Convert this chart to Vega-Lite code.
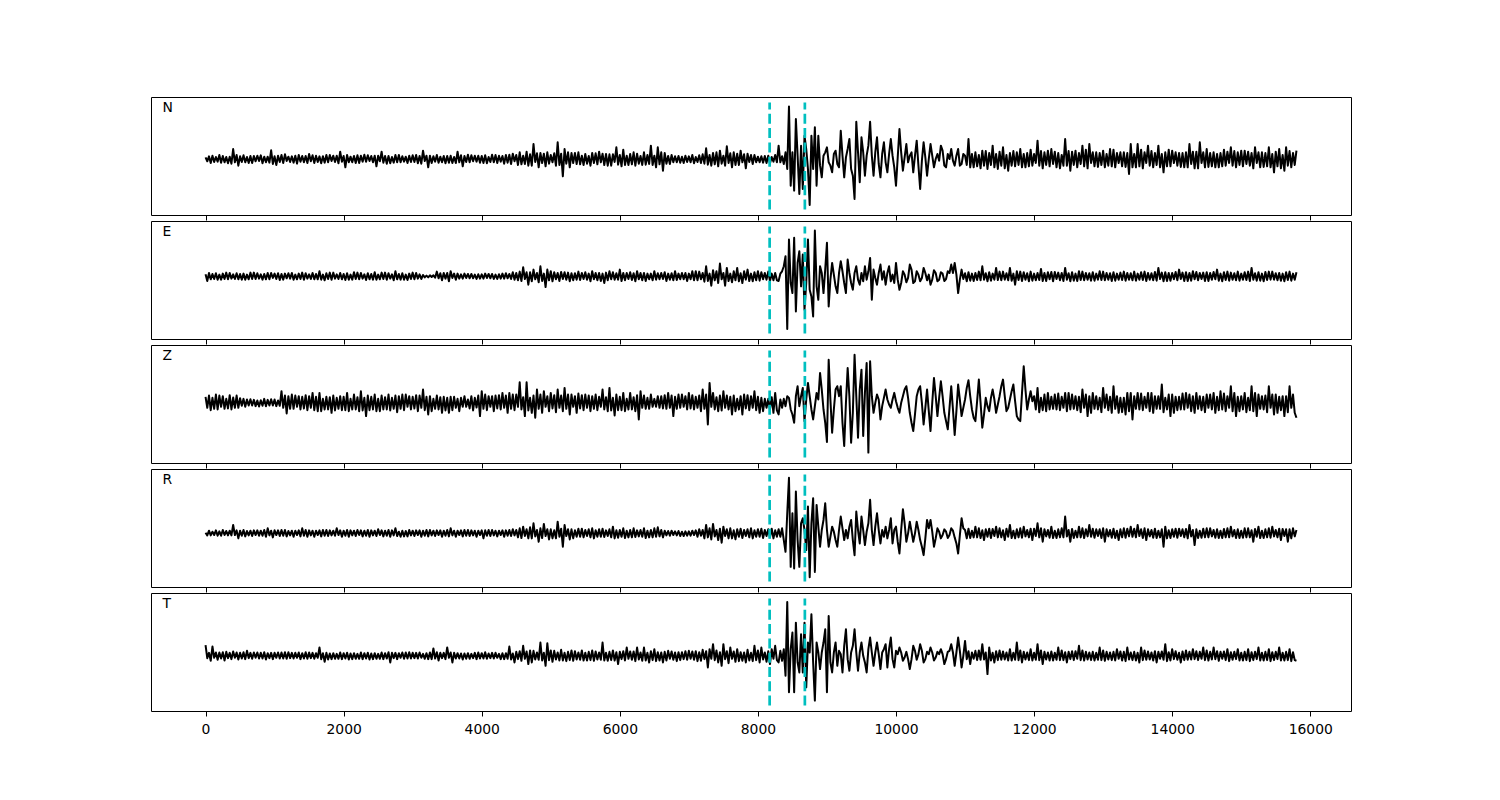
{
"$schema": "https://vega.github.io/schema/vega-lite/v6.json",
"background": "white",
"padding": {"left": 150, "top": 96, "right": 150, "bottom": 20},
"spacing": 6,
"bounds": "flush",
"datasets": {
"picks": [
{"c":"N","t":8170,"lo":-152,"hi":170},{"c":"N","t":8680,"lo":-152,"hi":170},
{"c":"E","t":8170,"lo":-171,"hi":149},{"c":"E","t":8680,"lo":-171,"hi":149},
{"c":"Z","t":8170,"lo":-165,"hi":158},{"c":"Z","t":8680,"lo":-165,"hi":158},
{"c":"R","t":8170,"lo":-144,"hi":176},{"c":"R","t":8680,"lo":-144,"hi":176},
{"c":"T","t":8170,"lo":-150,"hi":173},{"c":"T","t":8680,"lo":-150,"hi":173}
],
"wave": [
{"t":0,"N":5,"E":6,"Z":18,"R":2,"T":32},
{"t":25,"N":-7,"E":-14,"Z":-15,"R":-6,"T":-7},
{"t":50,"N":8,"E":10,"Z":22,"R":8,"T":9},
{"t":75,"N":-12,"E":-9,"Z":-22,"R":-6,"T":-15},
{"t":100,"N":10,"E":7,"Z":15,"R":5,"T":28},
{"t":125,"N":-9,"E":-8,"Z":-18,"R":-5,"T":-6},
{"t":150,"N":6,"E":9,"Z":25,"R":9,"T":10},
{"t":175,"N":-8,"E":-10,"Z":-20,"R":-7,"T":-12},
{"t":200,"N":12,"E":5,"Z":22,"R":6,"T":10},
{"t":225,"N":-11,"E":-10,"Z":-12,"R":-7,"T":-8},
{"t":250,"N":9,"E":8,"Z":20,"R":10,"T":11},
{"t":275,"N":-10,"E":-8,"Z":-18,"R":-5,"T":-14},
{"t":300,"N":6,"E":11,"Z":12,"R":7,"T":12},
{"t":325,"N":-13,"E":-9,"Z":-17,"R":-6,"T":-7},
{"t":350,"N":7,"E":10,"Z":23,"R":8,"T":9},
{"t":375,"N":-14,"E":-7,"Z":-20,"R":-6,"T":-10},
{"t":400,"N":30,"E":6,"Z":16,"R":25,"T":13},
{"t":425,"N":-10,"E":-8,"Z":-15,"R":-5,"T":-6},
{"t":450,"N":12,"E":9,"Z":22,"R":9,"T":10},
{"t":475,"N":-20,"E":-9,"Z":-15,"R":-15,"T":-11},
{"t":500,"N":8,"E":7,"Z":14,"R":8,"T":9},
{"t":525,"N":-9,"E":-10,"Z":-9,"R":-7,"T":-8},
{"t":550,"N":11,"E":8,"Z":12,"R":10,"T":11},
{"t":575,"N":-10,"E":-10,"Z":-12,"R":-9,"T":-10},
{"t":600,"N":6,"E":5,"Z":10,"R":7,"T":15},
{"t":625,"N":-12,"E":-9,"Z":-8,"R":-6,"T":-7},
{"t":650,"N":9,"E":11,"Z":11,"R":8,"T":9},
{"t":675,"N":-12,"E":-8,"Z":-8,"R":-8,"T":-9},
{"t":700,"N":9,"E":11,"Z":9,"R":9,"T":10},
{"t":725,"N":-7,"E":-8,"Z":-10,"R":-5,"T":-6},
{"t":750,"N":10,"E":9,"Z":7,"R":9,"T":10},
{"t":775,"N":-6,"E":-7,"Z":-11,"R":-7,"T":-8},
{"t":800,"N":11,"E":6,"Z":8,"R":8,"T":9},
{"t":825,"N":-13,"E":-10,"Z":-9,"R":-7,"T":-8},
{"t":850,"N":7,"E":7,"Z":12,"R":10,"T":11},
{"t":875,"N":-10,"E":-9,"Z":-10,"R":-10,"T":-11},
{"t":900,"N":7,"E":10,"Z":9,"R":15,"T":8},
{"t":925,"N":-11,"E":-9,"Z":-8,"R":-6,"T":-7},
{"t":950,"N":26,"E":10,"Z":11,"R":8,"T":9},
{"t":975,"N":-15,"E":-5,"Z":-8,"R":-12,"T":-10},
{"t":1000,"N":8,"E":8,"Z":10,"R":9,"T":9},
{"t":1025,"N":-18,"E":-8,"Z":-10,"R":-5,"T":-6},
{"t":1050,"N":10,"E":9,"Z":7,"R":9,"T":10},
{"t":1075,"N":-9,"E":-11,"Z":-9,"R":-8,"T":-8},
{"t":1100,"N":12,"E":7,"Z":35,"R":10,"T":10},
{"t":1125,"N":-12,"E":-10,"Z":-15,"R":-7,"T":-8},
{"t":1150,"N":14,"E":8,"Z":22,"R":10,"T":11},
{"t":1175,"N":-6,"E":-6,"Z":-32,"R":-9,"T":-9},
{"t":1200,"N":7,"E":9,"Z":20,"R":7,"T":11},
{"t":1225,"N":-9,"E":-7,"Z":-18,"R":-6,"T":-7},
{"t":1250,"N":8,"E":10,"Z":25,"R":8,"T":9},
{"t":1275,"N":-11,"E":-10,"Z":-18,"R":-10,"T":-8},
{"t":1300,"N":10,"E":5,"Z":22,"R":8,"T":9},
{"t":1325,"N":-14,"E":-9,"Z":-12,"R":-5,"T":-6},
{"t":1350,"N":12,"E":8,"Z":20,"R":9,"T":10},
{"t":1375,"N":-8,"E":-8,"Z":-20,"R":-9,"T":-10},
{"t":1400,"N":9,"E":11,"Z":18,"R":15,"T":8},
{"t":1425,"N":-10,"E":-10,"Z":-17,"R":-7,"T":-8},
{"t":1450,"N":9,"E":9,"Z":23,"R":10,"T":11},
{"t":1475,"N":-12,"E":-7,"Z":-22,"R":-10,"T":-9},
{"t":1500,"N":15,"E":6,"Z":20,"R":9,"T":10},
{"t":1525,"N":-7,"E":-8,"Z":-15,"R":-6,"T":-7},
{"t":1550,"N":11,"E":10,"Z":30,"R":8,"T":9},
{"t":1575,"N":-12,"E":-9,"Z":-22,"R":-10,"T":-9},
{"t":1600,"N":10,"E":7,"Z":18,"R":8,"T":8},
{"t":1625,"N":-9,"E":-9,"Z":-25,"R":-5,"T":-6},
{"t":1650,"N":8,"E":15,"Z":30,"R":9,"T":25},
{"t":1675,"N":-13,"E":-10,"Z":-25,"R":-9,"T":-10},
{"t":1700,"N":8,"E":5,"Z":12,"R":10,"T":8},
{"t":1725,"N":-11,"E":-12,"Z":-20,"R":-7,"T":-18},
{"t":1750,"N":12,"E":9,"Z":18,"R":10,"T":9},
{"t":1775,"N":-10,"E":-8,"Z":-20,"R":-8,"T":-11},
{"t":1800,"N":12,"E":11,"Z":17,"R":9,"T":7},
{"t":1825,"N":-6,"E":-10,"Z":-30,"R":-6,"T":-10},
{"t":1850,"N":10,"E":11,"Z":22,"R":8,"T":8},
{"t":1875,"N":-9,"E":-7,"Z":-23,"R":-7,"T":-9},
{"t":1900,"N":10,"E":6,"Z":15,"R":15,"T":6},
{"t":1925,"N":-13,"E":-8,"Z":-18,"R":-5,"T":-9},
{"t":1950,"N":22,"E":10,"Z":20,"R":9,"T":10},
{"t":1975,"N":-8,"E":-9,"Z":-22,"R":-10,"T":-10},
{"t":2000,"N":9,"E":7,"Z":18,"R":8,"T":8},
{"t":2025,"N":-25,"E":-11,"Z":-22,"R":-7,"T":-8},
{"t":2050,"N":12,"E":9,"Z":30,"R":10,"T":9},
{"t":2075,"N":-10,"E":-10,"Z":-25,"R":-10,"T":-11},
{"t":2100,"N":7,"E":5,"Z":12,"R":9,"T":7},
{"t":2125,"N":-10,"E":-10,"Z":-20,"R":-6,"T":-10},
{"t":2150,"N":9,"E":12,"Z":25,"R":8,"T":8},
{"t":2175,"N":-12,"E":-8,"Z":-20,"R":-8,"T":-9},
{"t":2200,"N":11,"E":11,"Z":17,"R":10,"T":6},
{"t":2225,"N":-12,"E":-9,"Z":-25,"R":-5,"T":-9},
{"t":2250,"N":10,"E":10,"Z":35,"R":9,"T":10},
{"t":2275,"N":-8,"E":-7,"Z":-23,"R":-9,"T":-10},
{"t":2300,"N":13,"E":6,"Z":15,"R":8,"T":8},
{"t":2325,"N":-8,"E":-11,"Z":-40,"R":-7,"T":-8},
{"t":2350,"N":11,"E":9,"Z":22,"R":10,"T":9},
{"t":2375,"N":-6,"E":-9,"Z":-22,"R":-10,"T":-11},
{"t":2400,"N":9,"E":7,"Z":18,"R":9,"T":7},
{"t":2425,"N":-10,"E":-10,"Z":-20,"R":-6,"T":-10},
{"t":2450,"N":10,"E":12,"Z":25,"R":8,"T":8},
{"t":2475,"N":-22,"E":-10,"Z":-25,"R":-8,"T":-9},
{"t":2500,"N":10,"E":5,"Z":12,"R":12,"T":6},
{"t":2525,"N":-7,"E":-9,"Z":-25,"R":-5,"T":-9},
{"t":2550,"N":22,"E":11,"Z":22,"R":9,"T":10},
{"t":2575,"N":-11,"E":-8,"Z":-20,"R":-9,"T":-10},
{"t":2600,"N":9,"E":11,"Z":17,"R":8,"T":8},
{"t":2625,"N":-14,"E":-10,"Z":-20,"R":-7,"T":-8},
{"t":2650,"N":9,"E":9,"Z":25,"R":10,"T":11},
{"t":2675,"N":-13,"E":-7,"Z":-23,"R":-10,"T":-20},
{"t":2700,"N":6,"E":6,"Z":15,"R":9,"T":9},
{"t":2725,"N":-11,"E":-12,"Z":-18,"R":-6,"T":-7},
{"t":2750,"N":12,"E":15,"Z":22,"R":15,"T":9},
{"t":2775,"N":-10,"E":-9,"Z":-28,"R":-8,"T":-10},
{"t":2800,"N":12,"E":7,"Z":20,"R":5,"T":8},
{"t":2825,"N":-10,"E":-10,"Z":-18,"R":-10,"T":-6},
{"t":2850,"N":8,"E":9,"Z":25,"R":8,"T":10},
{"t":2875,"N":-8,"E":-10,"Z":-22,"R":-9,"T":-9},
{"t":2900,"N":7,"E":5,"Z":25,"R":7,"T":10},
{"t":2925,"N":-12,"E":-11,"Z":-12,"R":-9,"T":-8},
{"t":2950,"N":10,"E":8,"Z":20,"R":10,"T":11},
{"t":2975,"N":-9,"E":-8,"Z":-20,"R":-6,"T":-8},
{"t":3000,"N":11,"E":11,"Z":18,"R":8,"T":9},
{"t":3025,"N":-9,"E":-9,"Z":-17,"R":-8,"T":-7},
{"t":3050,"N":12,"E":10,"Z":23,"R":9,"T":9},
{"t":3075,"N":-13,"E":-7,"Z":-25,"R":-5,"T":-8},
{"t":3100,"N":9,"E":6,"Z":22,"R":9,"T":10},
{"t":3125,"N":-14,"E":-8,"Z":-15,"R":-10,"T":-6},
{"t":3150,"N":25,"E":4,"Z":40,"R":8,"T":6},
{"t":3175,"N":-6,"E":-3,"Z":-22,"R":-7,"T":-9},
{"t":3200,"N":10,"E":2,"Z":18,"R":10,"T":8},
{"t":3225,"N":-25,"E":-3,"Z":-35,"R":-9,"T":-10},
{"t":3250,"N":10,"E":3,"Z":20,"R":10,"T":10},
{"t":3275,"N":-12,"E":-2,"Z":-25,"R":-6,"T":-10},
{"t":3300,"N":8,"E":3,"Z":12,"R":8,"T":22},
{"t":3325,"N":-8,"E":-4,"Z":-18,"R":-8,"T":-8},
{"t":3350,"N":12,"E":14,"Z":22,"R":9,"T":11},
{"t":3375,"N":-11,"E":-6,"Z":-20,"R":-5,"T":-14},
{"t":3400,"N":7,"E":9,"Z":17,"R":9,"T":9},
{"t":3425,"N":-10,"E":-12,"Z":-30,"R":-10,"T":-7},
{"t":3450,"N":9,"E":10,"Z":18,"R":8,"T":9},
{"t":3475,"N":-13,"E":-7,"Z":-23,"R":-7,"T":-10},
{"t":3500,"N":9,"E":10,"Z":15,"R":10,"T":25},
{"t":3525,"N":-11,"E":-15,"Z":-30,"R":-9,"T":-6},
{"t":3550,"N":10,"E":15,"Z":18,"R":15,"T":10},
{"t":3575,"N":-12,"E":-5,"Z":-22,"R":-6,"T":-20},
{"t":3600,"N":6,"E":8,"Z":18,"R":8,"T":9},
{"t":3625,"N":-12,"E":-10,"Z":-15,"R":-10,"T":-8},
{"t":3650,"N":22,"E":8,"Z":12,"R":8,"T":8},
{"t":3675,"N":-10,"E":-7,"Z":-25,"R":-5,"T":-8},
{"t":3700,"N":11,"E":6,"Z":15,"R":9,"T":7},
{"t":3725,"N":-22,"E":-7,"Z":-12,"R":-9,"T":-11},
{"t":3750,"N":9,"E":8,"Z":20,"R":10,"T":7},
{"t":3775,"N":-9,"E":-5,"Z":-12,"R":-7,"T":-9},
{"t":3800,"N":13,"E":7,"Z":10,"R":10,"T":8},
{"t":3825,"N":-10,"E":-6,"Z":-17,"R":-8,"T":-9},
{"t":3850,"N":11,"E":7,"Z":20,"R":9,"T":6},
{"t":3875,"N":-7,"E":-6,"Z":-23,"R":-6,"T":-7},
{"t":3900,"N":10,"E":5,"Z":15,"R":8,"T":9},
{"t":3925,"N":-8,"E":-8,"Z":-14,"R":-10,"T":-10},
{"t":3950,"N":10,"E":6,"Z":22,"R":8,"T":10},
{"t":3975,"N":-11,"E":-7,"Z":-40,"R":-5,"T":-8},
{"t":4000,"N":9,"E":6,"Z":35,"R":9,"T":8},
{"t":4025,"N":-12,"E":-7,"Z":-18,"R":-15,"T":-8},
{"t":4050,"N":11,"E":8,"Z":25,"R":9,"T":11},
{"t":4075,"N":-13,"E":-5,"Z":-22,"R":-7,"T":-9},
{"t":4100,"N":6,"E":7,"Z":20,"R":10,"T":7},
{"t":4125,"N":-9,"E":-6,"Z":-12,"R":-8,"T":-7},
{"t":4150,"N":13,"E":7,"Z":20,"R":10,"T":9},
{"t":4175,"N":-10,"E":-8,"Z":-25,"R":-6,"T":-8},
{"t":4200,"N":12,"E":5,"Z":22,"R":8,"T":9},
{"t":4225,"N":-12,"E":-8,"Z":-17,"R":-9,"T":-6},
{"t":4250,"N":10,"E":6,"Z":23,"R":8,"T":6},
{"t":4275,"N":-8,"E":-7,"Z":-20,"R":-5,"T":-10},
{"t":4300,"N":9,"E":8,"Z":30,"R":9,"T":8},
{"t":4325,"N":-14,"E":-7,"Z":-15,"R":-10,"T":-10},
{"t":4350,"N":12,"E":9,"Z":22,"R":9,"T":8},
{"t":4375,"N":-11,"E":-6,"Z":-30,"R":-7,"T":-9},
{"t":4400,"N":13,"E":7,"Z":30,"R":10,"T":28},
{"t":4425,"N":-15,"E":-8,"Z":-18,"R":-8,"T":-11},
{"t":4450,"N":16,"E":12,"Z":25,"R":12,"T":7},
{"t":4475,"N":-7,"E":-10,"Z":-22,"R":-6,"T":-20},
{"t":4500,"N":12,"E":10,"Z":25,"R":10,"T":12},
{"t":4525,"N":-18,"E":-12,"Z":-12,"R":-12,"T":-10},
{"t":4550,"N":20,"E":14,"Z":62,"R":15,"T":14},
{"t":4575,"N":-16,"E":-14,"Z":-20,"R":-14,"T":-15},
{"t":4600,"N":10,"E":27,"Z":17,"R":20,"T":30},
{"t":4625,"N":-15,"E":-8,"Z":-40,"R":-8,"T":-9},
{"t":4650,"N":22,"E":12,"Z":62,"R":12,"T":13},
{"t":4675,"N":-20,"E":-25,"Z":-23,"R":-15,"T":-25},
{"t":4700,"N":14,"E":12,"Z":15,"R":18,"T":16},
{"t":4725,"N":-20,"E":-15,"Z":-30,"R":-15,"T":-20},
{"t":4750,"N":45,"E":20,"Z":22,"R":30,"T":15},
{"t":4775,"N":-9,"E":-9,"Z":-45,"R":-9,"T":-11},
{"t":4800,"N":17,"E":10,"Z":40,"R":10,"T":10},
{"t":4825,"N":-25,"E":-18,"Z":-18,"R":-25,"T":-12},
{"t":4850,"N":18,"E":30,"Z":25,"R":15,"T":40},
{"t":4875,"N":-12,"E":-14,"Z":-30,"R":-14,"T":-14},
{"t":4900,"N":16,"E":8,"Z":35,"R":28,"T":9},
{"t":4925,"N":-22,"E":-32,"Z":-12,"R":-8,"T":-30},
{"t":4950,"N":20,"E":20,"Z":20,"R":12,"T":38},
{"t":4975,"N":-14,"E":-12,"Z":-25,"R":-18,"T":-13},
{"t":5000,"N":12,"E":15,"Z":30,"R":12,"T":16},
{"t":5025,"N":-10,"E":-15,"Z":-17,"R":-15,"T":-18},
{"t":5050,"N":17,"E":12,"Z":23,"R":9,"T":15},
{"t":5075,"N":-20,"E":-9,"Z":-28,"R":-15,"T":-11},
{"t":5100,"N":50,"E":10,"Z":40,"R":35,"T":10},
{"t":5125,"N":-18,"E":-14,"Z":-15,"R":-10,"T":-14},
{"t":5150,"N":16,"E":13,"Z":22,"R":14,"T":18},
{"t":5175,"N":-52,"E":-8,"Z":-25,"R":-40,"T":-14},
{"t":5200,"N":30,"E":12,"Z":45,"R":25,"T":9},
{"t":5225,"N":-14,"E":-10,"Z":-18,"R":-8,"T":-16},
{"t":5250,"N":20,"E":11,"Z":25,"R":12,"T":12},
{"t":5275,"N":-25,"E":-15,"Z":-35,"R":-18,"T":-13},
{"t":5300,"N":18,"E":9,"Z":25,"R":12,"T":16},
{"t":5325,"N":-12,"E":-12,"Z":-12,"R":-15,"T":-15},
{"t":5350,"N":18,"E":9,"Z":20,"R":9,"T":14},
{"t":5375,"N":-15,"E":-10,"Z":-30,"R":-10,"T":-11},
{"t":5400,"N":20,"E":14,"Z":28,"R":14,"T":10},
{"t":5425,"N":-16,"E":-11,"Z":-17,"R":-10,"T":-12},
{"t":5450,"N":10,"E":10,"Z":23,"R":14,"T":16},
{"t":5475,"N":-18,"E":-8,"Z":-22,"R":-12,"T":-14},
{"t":5500,"N":15,"E":12,"Z":25,"R":10,"T":9},
{"t":5525,"N":-14,"E":-10,"Z":-15,"R":-8,"T":-14},
{"t":5550,"N":9,"E":8,"Z":22,"R":12,"T":12},
{"t":5575,"N":-20,"E":-15,"Z":-25,"R":-12,"T":-13},
{"t":5600,"N":18,"E":15,"Z":20,"R":15,"T":16},
{"t":5625,"N":-12,"E":-9,"Z":-18,"R":-15,"T":-15},
{"t":5650,"N":17,"E":10,"Z":25,"R":9,"T":13},
{"t":5675,"N":-16,"E":-12,"Z":-22,"R":-10,"T":-11},
{"t":5700,"N":22,"E":10,"Z":18,"R":12,"T":10},
{"t":5725,"N":-10,"E":-14,"Z":-12,"R":-10,"T":-12},
{"t":5750,"N":16,"E":8,"Z":40,"R":14,"T":40},
{"t":5775,"N":-18,"E":-20,"Z":-20,"R":-11,"T":-14},
{"t":5800,"N":15,"E":11,"Z":17,"R":9,"T":9},
{"t":5825,"N":-20,"E":-12,"Z":-25,"R":-8,"T":-15},
{"t":5850,"N":14,"E":15,"Z":45,"R":12,"T":12},
{"t":5875,"N":-20,"E":-9,"Z":-23,"R":-12,"T":-13},
{"t":5900,"N":14,"E":12,"Z":15,"R":20,"T":16},
{"t":5925,"N":-9,"E":-10,"Z":-38,"R":-15,"T":-14},
{"t":5950,"N":35,"E":9,"Z":25,"R":9,"T":11},
{"t":5975,"N":-17,"E":-10,"Z":-22,"R":-13,"T":-25},
{"t":6000,"N":12,"E":20,"Z":18,"R":10,"T":12},
{"t":6025,"N":-22,"E":-14,"Z":-22,"R":-10,"T":-10},
{"t":6050,"N":28,"E":10,"Z":30,"R":15,"T":14},
{"t":6075,"N":-18,"E":-12,"Z":-25,"R":-14,"T":-14},
{"t":6100,"N":10,"E":10,"Z":12,"R":8,"T":25},
{"t":6125,"N":-18,"E":-8,"Z":-20,"R":-12,"T":-9},
{"t":6150,"N":15,"E":12,"Z":30,"R":10,"T":13},
{"t":6175,"N":-16,"E":-11,"Z":-20,"R":-12,"T":-12},
{"t":6200,"N":20,"E":9,"Z":17,"R":15,"T":13},
{"t":6225,"N":-20,"E":-15,"Z":-25,"R":-11,"T":-16},
{"t":6250,"N":16,"E":15,"Z":23,"R":9,"T":25},
{"t":6275,"N":-14,"E":-9,"Z":-50,"R":-9,"T":-11},
{"t":6300,"N":9,"E":10,"Z":35,"R":10,"T":10},
{"t":6325,"N":-18,"E":-12,"Z":-15,"R":-10,"T":-15},
{"t":6350,"N":20,"E":10,"Z":22,"R":15,"T":25},
{"t":6375,"N":-17,"E":-14,"Z":-18,"R":-14,"T":-14},
{"t":6400,"N":12,"E":8,"Z":15,"R":8,"T":9},
{"t":6425,"N":-15,"E":-9,"Z":-18,"R":-12,"T":-20},
{"t":6450,"N":40,"E":8,"Z":25,"R":10,"T":14},
{"t":6475,"N":-18,"E":-12,"Z":-12,"R":-12,"T":-13},
{"t":6500,"N":10,"E":15,"Z":12,"R":15,"T":20},
{"t":6525,"N":-25,"E":-10,"Z":-12,"R":-10,"T":-16},
{"t":6550,"N":35,"E":9,"Z":20,"R":18,"T":11},
{"t":6575,"N":-16,"E":-9,"Z":-15,"R":-9,"T":-14},
{"t":6600,"N":20,"E":10,"Z":20,"R":10,"T":10},
{"t":6625,"N":-35,"E":-8,"Z":-17,"R":-12,"T":-20},
{"t":6650,"N":18,"E":12,"Z":23,"R":8,"T":12},
{"t":6675,"N":-14,"E":-14,"Z":-18,"R":-6,"T":-14},
{"t":6700,"N":9,"E":8,"Z":30,"R":7,"T":15},
{"t":6725,"N":-15,"E":-10,"Z":-15,"R":-7,"T":-9},
{"t":6750,"N":12,"E":9,"Z":22,"R":8,"T":13},
{"t":6775,"N":-10,"E":-12,"Z":-40,"R":-5,"T":-12},
{"t":6800,"N":8,"E":15,"Z":18,"R":6,"T":10},
{"t":6825,"N":-10,"E":-11,"Z":-18,"R":-6,"T":-16},
{"t":6850,"N":9,"E":8,"Z":25,"R":7,"T":11},
{"t":6875,"N":-11,"E":-9,"Z":-15,"R":-8,"T":-13},
{"t":6900,"N":7,"E":10,"Z":25,"R":5,"T":11},
{"t":6925,"N":-12,"E":-9,"Z":-12,"R":-8,"T":-10},
{"t":6950,"N":10,"E":10,"Z":20,"R":6,"T":14},
{"t":6975,"N":-9,"E":-14,"Z":-20,"R":-7,"T":-12},
{"t":7000,"N":8,"E":8,"Z":30,"R":6,"T":15},
{"t":7025,"N":-10,"E":-9,"Z":-17,"R":-7,"T":-9},
{"t":7050,"N":12,"E":15,"Z":23,"R":8,"T":13},
{"t":7075,"N":-13,"E":-12,"Z":-20,"R":-5,"T":-12},
{"t":7100,"N":6,"E":15,"Z":18,"R":9,"T":14},
{"t":7125,"N":-9,"E":-12,"Z":-15,"R":-10,"T":-16},
{"t":7150,"N":11,"E":14,"Z":22,"R":12,"T":11},
{"t":7175,"N":-12,"E":-9,"Z":-25,"R":-7,"T":-15},
{"t":7200,"N":14,"E":10,"Z":40,"R":10,"T":18},
{"t":7225,"N":-14,"E":-16,"Z":-18,"R":-15,"T":-10},
{"t":7250,"N":32,"E":30,"Z":25,"R":25,"T":14},
{"t":7275,"N":-17,"E":-14,"Z":-65,"R":-12,"T":-35},
{"t":7300,"N":12,"E":8,"Z":60,"R":15,"T":20},
{"t":7325,"N":-20,"E":-28,"Z":-12,"R":-18,"T":-9},
{"t":7350,"N":18,"E":18,"Z":30,"R":28,"T":35},
{"t":7375,"N":-16,"E":-12,"Z":-20,"R":-9,"T":-13},
{"t":7400,"N":20,"E":15,"Z":17,"R":10,"T":16},
{"t":7425,"N":-22,"E":-20,"Z":-25,"R":-20,"T":-20},
{"t":7450,"N":25,"E":38,"Z":22,"R":14,"T":11},
{"t":7475,"N":-14,"E":-9,"Z":-23,"R":-28,"T":-30},
{"t":7500,"N":10,"E":10,"Z":35,"R":20,"T":35},
{"t":7525,"N":-20,"E":-28,"Z":-15,"R":-8,"T":-10},
{"t":7550,"N":38,"E":25,"Z":22,"R":12,"T":14},
{"t":7575,"N":-12,"E":-14,"Z":-20,"R":-15,"T":-22},
{"t":7600,"N":17,"E":8,"Z":18,"R":15,"T":25},
{"t":7625,"N":-25,"E":-18,"Z":-35,"R":-15,"T":-9},
{"t":7650,"N":20,"E":15,"Z":22,"R":9,"T":13},
{"t":7675,"N":-18,"E":-12,"Z":-25,"R":-18,"T":-18},
{"t":7700,"N":16,"E":25,"Z":12,"R":12,"T":20},
{"t":7725,"N":-18,"E":-15,"Z":-20,"R":-10,"T":-16},
{"t":7750,"N":25,"E":9,"Z":20,"R":14,"T":11},
{"t":7775,"N":-10,"E":-20,"Z":-35,"R":-14,"T":-15},
{"t":7800,"N":14,"E":15,"Z":25,"R":10,"T":10},
{"t":7825,"N":-28,"E":-10,"Z":-17,"R":-8,"T":-20},
{"t":7850,"N":16,"E":20,"Z":23,"R":12,"T":18},
{"t":7875,"N":-9,"E":-14,"Z":-22,"R":-12,"T":-14},
{"t":7900,"N":12,"E":8,"Z":20,"R":15,"T":9},
{"t":7925,"N":-15,"E":-15,"Z":-15,"R":-15,"T":-16},
{"t":7950,"N":12,"E":12,"Z":35,"R":9,"T":30},
{"t":7975,"N":-10,"E":-12,"Z":-22,"R":-10,"T":-13},
{"t":8000,"N":7,"E":15,"Z":18,"R":12,"T":16},
{"t":8025,"N":-10,"E":-13,"Z":-30,"R":-10,"T":-20},
{"t":8050,"N":8,"E":12,"Z":15,"R":14,"T":25},
{"t":8075,"N":-11,"E":-9,"Z":-25,"R":-14,"T":-11},
{"t":8100,"N":9,"E":10,"Z":12,"R":10,"T":10},
{"t":8125,"N":-12,"E":-10,"Z":-15,"R":-8,"T":-18},
{"t":8150,"N":10,"E":14,"Z":12,"R":12,"T":14},
{"t":8175,"N":-13,"E":-14,"Z":-20,"R":-12,"T":-25},
{"t":8200,"N":6,"E":8,"Z":17,"R":14,"T":20},
{"t":8225,"N":-8,"E":-12,"Z":-30,"R":-15,"T":-9},
{"t":8250,"N":12,"E":10,"Z":30,"R":9,"T":30},
{"t":8275,"N":-10,"E":-12,"Z":-23,"R":-10,"T":-13},
{"t":8300,"N":40,"E":-14,"Z":-35,"R":12,"T":-20},
{"t":8325,"N":-10,"E":8,"Z":10,"R":-10,"T":15},
{"t":8350,"N":8,"E":15,"Z":-15,"R":15,"T":-15},
{"t":8375,"N":-15,"E":30,"Z":12,"R":-20,"T":20},
{"t":8400,"N":20,"E":60,"Z":-10,"R":-55,"T":-60},
{"t":8425,"N":-30,"E":-157,"Z":20,"R":60,"T":162},
{"t":8450,"N":158,"E":110,"Z":15,"R":166,"T":-110},
{"t":8475,"N":-80,"E":-20,"Z":-20,"R":-100,"T":20},
{"t":8500,"N":20,"E":-50,"Z":-35,"R":60,"T":70},
{"t":8525,"N":-95,"E":115,"Z":-60,"R":-105,"T":-110},
{"t":8550,"N":120,"E":-105,"Z":20,"R":125,"T":100},
{"t":8575,"N":10,"E":40,"Z":50,"R":-20,"T":-20},
{"t":8600,"N":-105,"E":75,"Z":-10,"R":-100,"T":-50},
{"t":8625,"N":40,"E":-30,"Z":20,"R":30,"T":65},
{"t":8650,"N":-90,"E":65,"Z":45,"R":45,"T":-50},
{"t":8675,"N":70,"E":-100,"Z":-55,"R":10,"T":100},
{"t":8700,"N":30,"E":-20,"Z":10,"R":-50,"T":-95},
{"t":8725,"N":-30,"E":110,"Z":60,"R":80,"T":40},
{"t":8750,"N":-138,"E":-40,"Z":20,"R":-131,"T":10},
{"t":8775,"N":70,"E":-60,"Z":-20,"R":30,"T":125},
{"t":8800,"N":-30,"E":-120,"Z":-50,"R":105,"T":-20},
{"t":8825,"N":95,"E":137,"Z":-10,"R":-115,"T":-135},
{"t":8850,"N":-80,"E":-30,"Z":30,"R":85,"T":40},
{"t":8875,"N":70,"E":-70,"Z":10,"R":20,"T":10},
{"t":8900,"N":-20,"E":30,"Z":90,"R":-40,"T":-40},
{"t":8925,"N":-55,"E":10,"Z":40,"R":10,"T":10},
{"t":8950,"N":10,"E":-50,"Z":-20,"R":40,"T":40},
{"t":8975,"N":20,"E":20,"Z":-60,"R":90,"T":80},
{"t":9000,"N":35,"E":100,"Z":-118,"R":10,"T":-110},
{"t":9025,"N":-10,"E":-90,"Z":130,"R":-40,"T":120},
{"t":9050,"N":-20,"E":-10,"Z":10,"R":-10,"T":-20},
{"t":9075,"N":-40,"E":40,"Z":-90,"R":20,"T":-50},
{"t":9100,"N":15,"E":5,"Z":-20,"R":5,"T":10},
{"t":9125,"N":25,"E":-30,"Z":40,"R":-20,"T":40},
{"t":9150,"N":-15,"E":-50,"Z":50,"R":-40,"T":-30},
{"t":9175,"N":-25,"E":10,"Z":20,"R":10,"T":15},
{"t":9200,"N":85,"E":45,"Z":50,"R":50,"T":5},
{"t":9225,"N":10,"E":15,"Z":-60,"R":15,"T":-50},
{"t":9250,"N":-55,"E":-20,"Z":-130,"R":-20,"T":30},
{"t":9275,"N":5,"E":-50,"Z":0,"R":10,"T":80},
{"t":9300,"N":30,"E":50,"Z":105,"R":-15,"T":-10},
{"t":9325,"N":60,"E":10,"Z":20,"R":20,"T":-45},
{"t":9350,"N":-30,"E":-20,"Z":-120,"R":40,"T":10},
{"t":9375,"N":-50,"E":-40,"Z":-30,"R":-20,"T":30},
{"t":9400,"N":-120,"E":10,"Z":145,"R":-65,"T":80},
{"t":9425,"N":112,"E":30,"Z":20,"R":65,"T":10},
{"t":9450,"N":20,"E":-10,"Z":-105,"R":10,"T":-45},
{"t":9475,"N":-70,"E":-25,"Z":40,"R":-30,"T":10},
{"t":9500,"N":65,"E":10,"Z":100,"R":50,"T":40},
{"t":9525,"N":20,"E":-15,"Z":-100,"R":10,"T":0},
{"t":9550,"N":-50,"E":30,"Z":30,"R":-35,"T":-20},
{"t":9575,"N":10,"E":-10,"Z":120,"R":5,"T":-50},
{"t":9600,"N":40,"E":15,"Z":-150,"R":30,"T":20},
{"t":9625,"N":112,"E":55,"Z":125,"R":100,"T":55},
{"t":9650,"N":10,"E":-70,"Z":20,"R":10,"T":10},
{"t":9675,"N":-50,"E":20,"Z":-30,"R":-35,"T":-30},
{"t":9700,"N":20,"E":-5,"Z":0,"R":20,"T":10},
{"t":9725,"N":65,"E":-25,"Z":25,"R":60,"T":40},
{"t":9750,"N":-15,"E":10,"Z":10,"R":10,"T":5},
{"t":9775,"N":-55,"E":35,"Z":-50,"R":-30,"T":-40},
{"t":9800,"N":15,"E":-10,"Z":-10,"R":10,"T":10},
{"t":9825,"N":50,"E":15,"Z":15,"R":-10,"T":20},
{"t":9850,"N":-10,"E":-25,"Z":40,"R":20,"T":35},
{"t":9875,"N":-40,"E":10,"Z":10,"R":-15,"T":-35},
{"t":9900,"N":15,"E":30,"Z":-5,"R":10,"T":20},
{"t":9925,"N":60,"E":-15,"Z":-15,"R":45,"T":55},
{"t":9950,"N":10,"E":5,"Z":10,"R":-30,"T":-10},
{"t":9975,"N":-25,"E":-20,"Z":30,"R":10,"T":-35},
{"t":10000,"N":-80,"E":40,"Z":5,"R":20,"T":15},
{"t":10025,"N":5,"E":-10,"Z":-15,"R":-25,"T":5},
{"t":10050,"N":90,"E":-40,"Z":-30,"R":-60,"T":25},
{"t":10075,"N":20,"E":-20,"Z":0,"R":10,"T":10},
{"t":10100,"N":-35,"E":15,"Z":20,"R":72,"T":-15},
{"t":10125,"N":5,"E":5,"Z":40,"R":30,"T":-5},
{"t":10150,"N":45,"E":-18,"Z":50,"R":-25,"T":12},
{"t":10175,"N":-10,"E":-5,"Z":15,"R":0,"T":-10},
{"t":10200,"N":10,"E":35,"Z":-30,"R":35,"T":-40},
{"t":10225,"N":20,"E":20,"Z":-60,"R":5,"T":-10},
{"t":10250,"N":-40,"E":-20,"Z":-85,"R":-25,"T":30},
{"t":10275,"N":10,"E":-15,"Z":-35,"R":0,"T":15},
{"t":10300,"N":55,"E":15,"Z":20,"R":35,"T":-12},
{"t":10325,"N":-20,"E":5,"Z":40,"R":10,"T":5},
{"t":10350,"N":-90,"E":-15,"Z":50,"R":-20,"T":35},
{"t":10375,"N":-5,"E":-5,"Z":0,"R":-40,"T":15},
{"t":10400,"N":50,"E":25,"Z":-65,"R":-65,"T":-20},
{"t":10425,"N":5,"E":10,"Z":-15,"R":-15,"T":-10},
{"t":10450,"N":-50,"E":-12,"Z":40,"R":40,"T":12},
{"t":10475,"N":0,"E":5,"Z":-25,"R":15,"T":5},
{"t":10500,"N":45,"E":-25,"Z":-85,"R":40,"T":25},
{"t":10525,"N":10,"E":-10,"Z":0,"R":5,"T":10},
{"t":10550,"N":-25,"E":18,"Z":75,"R":-40,"T":-14},
{"t":10575,"N":0,"E":10,"Z":20,"R":-15,"T":-5},
{"t":10600,"N":15,"E":-15,"Z":-40,"R":15,"T":12},
{"t":10625,"N":-5,"E":-10,"Z":15,"R":5,"T":5},
{"t":10650,"N":40,"E":12,"Z":65,"R":-15,"T":20},
{"t":10675,"N":25,"E":8,"Z":20,"R":-5,"T":5},
{"t":10700,"N":-20,"E":-14,"Z":-30,"R":12,"T":-25},
{"t":10725,"N":-25,"E":-8,"Z":-55,"R":5,"T":-10},
{"t":10750,"N":15,"E":15,"Z":-80,"R":-14,"T":12},
{"t":10775,"N":0,"E":10,"Z":-15,"R":-5,"T":15},
{"t":10800,"N":30,"E":35,"Z":50,"R":15,"T":35},
{"t":10825,"N":-5,"E":10,"Z":-20,"R":8,"T":10},
{"t":10850,"N":-20,"E":40,"Z":-97,"R":-12,"T":-30},
{"t":10875,"N":10,"E":5,"Z":-25,"R":-30,"T":10},
{"t":10900,"N":30,"E":-50,"Z":55,"R":-60,"T":55},
{"t":10925,"N":-20,"E":-10,"Z":10,"R":-5,"T":15},
{"t":10950,"N":-15,"E":20,"Z":-40,"R":45,"T":-35},
{"t":10975,"N":15,"E":-8,"Z":-15,"R":15,"T":0},
{"t":11000,"N":10,"E":9,"Z":10,"R":10,"T":45},
{"t":11025,"N":-18,"E":-15,"Z":45,"R":-15,"T":-10},
{"t":11050,"N":60,"E":12,"Z":68,"R":14,"T":14},
{"t":11075,"N":-25,"E":-13,"Z":20,"R":-14,"T":-25},
{"t":11100,"N":15,"E":8,"Z":-20,"R":8,"T":10},
{"t":11125,"N":-25,"E":-14,"Z":-45,"R":-12,"T":-9},
{"t":11150,"N":20,"E":10,"Z":-55,"R":20,"T":15},
{"t":11175,"N":-22,"E":-11,"Z":5,"R":-12,"T":-13},
{"t":11200,"N":12,"E":14,"Z":70,"R":15,"T":16},
{"t":11225,"N":-28,"E":-12,"Z":0,"R":-14,"T":-12},
{"t":11250,"N":25,"E":30,"Z":-75,"R":9,"T":35},
{"t":11275,"N":-20,"E":-10,"Z":-35,"R":-20,"T":-11},
{"t":11300,"N":24,"E":9,"Z":15,"R":12,"T":10},
{"t":11325,"N":-30,"E":-15,"Z":-10,"R":-10,"T":-55},
{"t":11350,"N":18,"E":12,"Z":-25,"R":14,"T":25},
{"t":11375,"N":-18,"E":-13,"Z":15,"R":-14,"T":-14},
{"t":11400,"N":40,"E":8,"Z":40,"R":13,"T":9},
{"t":11425,"N":-25,"E":-10,"Z":10,"R":-8,"T":-20},
{"t":11450,"N":15,"E":25,"Z":-30,"R":20,"T":14},
{"t":11475,"N":-30,"E":-11,"Z":-5,"R":-12,"T":-13},
{"t":11500,"N":22,"E":14,"Z":20,"R":15,"T":16},
{"t":11525,"N":-20,"E":-12,"Z":50,"R":-12,"T":-12},
{"t":11550,"N":35,"E":14,"Z":70,"R":9,"T":13},
{"t":11575,"N":-28,"E":-10,"Z":20,"R":-20,"T":-11},
{"t":11600,"N":12,"E":9,"Z":-25,"R":14,"T":10},
{"t":11625,"N":-35,"E":-12,"Z":-15,"R":-10,"T":-14},
{"t":11650,"N":18,"E":25,"Z":10,"R":25,"T":20},
{"t":11675,"N":-20,"E":-13,"Z":35,"R":-14,"T":-14},
{"t":11700,"N":24,"E":8,"Z":55,"R":8,"T":9},
{"t":11725,"N":-22,"E":-25,"Z":5,"R":-15,"T":-12},
{"t":11750,"N":20,"E":15,"Z":-40,"R":12,"T":40},
{"t":11775,"N":-18,"E":-11,"Z":-50,"R":-12,"T":-13},
{"t":11800,"N":30,"E":14,"Z":-55,"R":15,"T":16},
{"t":11825,"N":-25,"E":-14,"Z":30,"R":-13,"T":-20},
{"t":11850,"N":15,"E":12,"Z":110,"R":20,"T":12},
{"t":11875,"N":-25,"E":-10,"Z":40,"R":-9,"T":-11},
{"t":11900,"N":18,"E":9,"Z":-20,"R":10,"T":10},
{"t":11925,"N":-22,"E":-15,"Z":10,"R":-12,"T":-13},
{"t":11950,"N":28,"E":14,"Z":35,"R":14,"T":20},
{"t":11975,"N":-20,"E":-13,"Z":5,"R":-20,"T":-14},
{"t":12000,"N":15,"E":8,"Z":20,"R":14,"T":9},
{"t":12025,"N":-12,"E":-12,"Z":-20,"R":-8,"T":-12},
{"t":12050,"N":55,"E":10,"Z":45,"R":30,"T":35},
{"t":12075,"N":-20,"E":-11,"Z":-28,"R":-12,"T":-13},
{"t":12100,"N":24,"E":22,"Z":15,"R":15,"T":16},
{"t":12125,"N":-28,"E":-14,"Z":-22,"R":-25,"T":-25},
{"t":12150,"N":20,"E":10,"Z":25,"R":12,"T":12},
{"t":12175,"N":-18,"E":-14,"Z":-25,"R":-9,"T":-11},
{"t":12200,"N":25,"E":12,"Z":30,"R":10,"T":10},
{"t":12225,"N":-22,"E":-9,"Z":-20,"R":-13,"T":-14},
{"t":12250,"N":30,"E":13,"Z":18,"R":20,"T":13},
{"t":12275,"N":-15,"E":-15,"Z":-18,"R":-14,"T":-14},
{"t":12300,"N":22,"E":13,"Z":25,"R":8,"T":9},
{"t":12325,"N":-25,"E":-8,"Z":-20,"R":-14,"T":-12},
{"t":12350,"N":18,"E":11,"Z":28,"R":12,"T":25},
{"t":12375,"N":-28,"E":-12,"Z":-22,"R":-12,"T":-13},
{"t":12400,"N":12,"E":10,"Z":18,"R":15,"T":16},
{"t":12425,"N":-20,"E":-14,"Z":-15,"R":-12,"T":-13},
{"t":12450,"N":60,"E":25,"Z":30,"R":50,"T":11},
{"t":12475,"N":-20,"E":-10,"Z":-25,"R":-9,"T":-20},
{"t":12500,"N":24,"E":9,"Z":30,"R":10,"T":12},
{"t":12525,"N":-35,"E":-15,"Z":-20,"R":-25,"T":-10},
{"t":12550,"N":22,"E":12,"Z":25,"R":13,"T":14},
{"t":12575,"N":-18,"E":-13,"Z":-18,"R":-14,"T":-13},
{"t":12600,"N":25,"E":8,"Z":20,"R":8,"T":14},
{"t":12625,"N":-25,"E":-14,"Z":-22,"R":-12,"T":-9},
{"t":12650,"N":18,"E":15,"Z":18,"R":20,"T":30},
{"t":12675,"N":-15,"E":-11,"Z":-28,"R":-12,"T":-13},
{"t":12700,"N":40,"E":14,"Z":40,"R":15,"T":16},
{"t":12725,"N":-22,"E":-12,"Z":-15,"R":-14,"T":-14},
{"t":12750,"N":28,"E":10,"Z":25,"R":12,"T":12},
{"t":12775,"N":-28,"E":-10,"Z":-40,"R":-9,"T":-11},
{"t":12800,"N":45,"E":9,"Z":20,"R":25,"T":10},
{"t":12825,"N":-12,"E":-13,"Z":-30,"R":-10,"T":-13},
{"t":12850,"N":20,"E":12,"Z":30,"R":14,"T":12},
{"t":12875,"N":-22,"E":-13,"Z":-18,"R":-13,"T":-14},
{"t":12900,"N":20,"E":8,"Z":20,"R":12,"T":9},
{"t":12925,"N":-24,"E":-10,"Z":-20,"R":-8,"T":-12},
{"t":12950,"N":18,"E":15,"Z":15,"R":12,"T":25},
{"t":12975,"N":-18,"E":-11,"Z":-28,"R":-14,"T":-13},
{"t":13000,"N":25,"E":14,"Z":45,"R":15,"T":16},
{"t":13025,"N":-25,"E":-12,"Z":-15,"R":-25,"T":-15},
{"t":13050,"N":15,"E":10,"Z":25,"R":12,"T":12},
{"t":13075,"N":-20,"E":-10,"Z":-22,"R":-9,"T":-11},
{"t":13100,"N":30,"E":9,"Z":18,"R":10,"T":10},
{"t":13125,"N":-22,"E":-14,"Z":-30,"R":-13,"T":-13},
{"t":13150,"N":28,"E":12,"Z":50,"R":14,"T":12},
{"t":13175,"N":-25,"E":-13,"Z":-18,"R":-14,"T":-14},
{"t":13200,"N":18,"E":8,"Z":20,"R":8,"T":20},
{"t":13225,"N":-12,"E":-10,"Z":-30,"R":-20,"T":-9},
{"t":13250,"N":20,"E":11,"Z":15,"R":12,"T":13},
{"t":13275,"N":-22,"E":-11,"Z":-28,"R":-12,"T":-14},
{"t":13300,"N":20,"E":14,"Z":15,"R":15,"T":12},
{"t":13325,"N":-24,"E":-13,"Z":-35,"R":-13,"T":-16},
{"t":13350,"N":18,"E":10,"Z":30,"R":14,"T":25},
{"t":13375,"N":-45,"E":-10,"Z":-25,"R":-9,"T":-11},
{"t":13400,"N":45,"E":9,"Z":30,"R":20,"T":10},
{"t":13425,"N":-25,"E":-12,"Z":-50,"R":-10,"T":-13},
{"t":13450,"N":15,"E":14,"Z":20,"R":14,"T":12},
{"t":13475,"N":-25,"E":-13,"Z":-18,"R":-12,"T":-14},
{"t":13500,"N":45,"E":8,"Z":30,"R":25,"T":9},
{"t":13525,"N":-22,"E":-10,"Z":-20,"R":-8,"T":-20},
{"t":13550,"N":28,"E":12,"Z":28,"R":12,"T":25},
{"t":13575,"N":-28,"E":-11,"Z":-22,"R":-14,"T":-13},
{"t":13600,"N":20,"E":14,"Z":18,"R":15,"T":16},
{"t":13625,"N":-12,"E":-14,"Z":-15,"R":-20,"T":-12},
{"t":13650,"N":40,"E":10,"Z":30,"R":12,"T":13},
{"t":13675,"N":-20,"E":-10,"Z":-25,"R":-9,"T":-11},
{"t":13700,"N":24,"E":9,"Z":30,"R":10,"T":10},
{"t":13725,"N":-25,"E":-12,"Z":-30,"R":-13,"T":-14},
{"t":13750,"N":18,"E":13,"Z":20,"R":14,"T":14},
{"t":13775,"N":-18,"E":-13,"Z":-18,"R":-14,"T":-20},
{"t":13800,"N":40,"E":25,"Z":20,"R":8,"T":12},
{"t":13825,"N":-25,"E":-8,"Z":-18,"R":-12,"T":-9},
{"t":13850,"N":15,"E":11,"Z":55,"R":12,"T":13},
{"t":13875,"N":-40,"E":-15,"Z":-28,"R":-40,"T":-12},
{"t":13900,"N":20,"E":12,"Z":15,"R":20,"T":35},
{"t":13925,"N":-22,"E":-14,"Z":-20,"R":-15,"T":-16},
{"t":13950,"N":28,"E":10,"Z":25,"R":9,"T":11},
{"t":13975,"N":-22,"E":-13,"Z":-40,"R":-14,"T":-14},
{"t":14000,"N":25,"E":10,"Z":25,"R":12,"T":20},
{"t":14025,"N":-12,"E":-9,"Z":-30,"R":-10,"T":-10},
{"t":14050,"N":20,"E":13,"Z":18,"R":14,"T":14},
{"t":14075,"N":-20,"E":-12,"Z":-22,"R":-13,"T":-12},
{"t":14100,"N":18,"E":20,"Z":18,"R":14,"T":9},
{"t":14125,"N":-24,"E":-8,"Z":-20,"R":-8,"T":-20},
{"t":14150,"N":18,"E":11,"Z":28,"R":12,"T":13},
{"t":14175,"N":-25,"E":-14,"Z":-20,"R":-12,"T":-13},
{"t":14200,"N":20,"E":12,"Z":30,"R":13,"T":16},
{"t":14225,"N":-25,"E":-14,"Z":-15,"R":-15,"T":-12},
{"t":14250,"N":45,"E":10,"Z":25,"R":25,"T":12},
{"t":14275,"N":-15,"E":-13,"Z":-25,"R":-9,"T":-11},
{"t":14300,"N":22,"E":15,"Z":20,"R":10,"T":20},
{"t":14325,"N":-28,"E":-9,"Z":-30,"R":-35,"T":-10},
{"t":14350,"N":22,"E":13,"Z":30,"R":12,"T":14},
{"t":14375,"N":-28,"E":-12,"Z":-18,"R":-14,"T":-13},
{"t":14400,"N":50,"E":10,"Z":20,"R":8,"T":12},
{"t":14425,"N":-12,"E":-8,"Z":-22,"R":-13,"T":-9},
{"t":14450,"N":20,"E":11,"Z":18,"R":14,"T":25},
{"t":14475,"N":-25,"E":-14,"Z":-28,"R":-12,"T":-13},
{"t":14500,"N":30,"E":12,"Z":25,"R":15,"T":16},
{"t":14525,"N":-24,"E":-14,"Z":-15,"R":-12,"T":-14},
{"t":14550,"N":18,"E":10,"Z":25,"R":15,"T":12},
{"t":14575,"N":-22,"E":-10,"Z":-20,"R":-9,"T":-11},
{"t":14600,"N":20,"E":13,"Z":30,"R":10,"T":25},
{"t":14625,"N":-25,"E":-9,"Z":-30,"R":-13,"T":-10},
{"t":14650,"N":15,"E":20,"Z":18,"R":12,"T":14},
{"t":14675,"N":-25,"E":-13,"Z":-22,"R":-14,"T":-15},
{"t":14700,"N":18,"E":8,"Z":35,"R":8,"T":12},
{"t":14725,"N":-22,"E":-15,"Z":-20,"R":-14,"T":-9},
{"t":14750,"N":28,"E":12,"Z":28,"R":13,"T":13},
{"t":14775,"N":-20,"E":-11,"Z":-25,"R":-12,"T":-13},
{"t":14800,"N":22,"E":14,"Z":20,"R":15,"T":20},
{"t":14825,"N":-12,"E":-13,"Z":-15,"R":-12,"T":-16},
{"t":14850,"N":35,"E":11,"Z":50,"R":20,"T":11},
{"t":14875,"N":-20,"E":-10,"Z":-25,"R":-9,"T":-12},
{"t":14900,"N":24,"E":9,"Z":30,"R":10,"T":12},
{"t":14925,"N":-25,"E":-12,"Z":-40,"R":-14,"T":-10},
{"t":14950,"N":20,"E":14,"Z":18,"R":12,"T":20},
{"t":14975,"N":-18,"E":-13,"Z":-25,"R":-14,"T":-14},
{"t":15000,"N":25,"E":8,"Z":20,"R":8,"T":9},
{"t":15025,"N":-22,"E":-10,"Z":-20,"R":-13,"T":-14},
{"t":15050,"N":25,"E":12,"Z":30,"R":15,"T":12},
{"t":15075,"N":-15,"E":-11,"Z":-28,"R":-12,"T":-13},
{"t":15100,"N":22,"E":14,"Z":15,"R":15,"T":20},
{"t":15125,"N":-20,"E":-14,"Z":-22,"R":-12,"T":-16},
{"t":15150,"N":18,"E":25,"Z":50,"R":9,"T":11},
{"t":15175,"N":-28,"E":-10,"Z":-25,"R":-25,"T":-13},
{"t":15200,"N":35,"E":9,"Z":30,"R":13,"T":12},
{"t":15225,"N":-12,"E":-13,"Z":-40,"R":-10,"T":-10},
{"t":15250,"N":20,"E":12,"Z":25,"R":20,"T":25},
{"t":15275,"N":-25,"E":-13,"Z":-18,"R":-14,"T":-14},
{"t":15300,"N":20,"E":8,"Z":20,"R":8,"T":9},
{"t":15325,"N":-24,"E":-15,"Z":-20,"R":-14,"T":-14},
{"t":15350,"N":18,"E":13,"Z":22,"R":12,"T":12},
{"t":15375,"N":-22,"E":-11,"Z":-28,"R":-12,"T":-13},
{"t":15400,"N":35,"E":14,"Z":50,"R":15,"T":20},
{"t":15425,"N":-25,"E":-10,"Z":-15,"R":-13,"T":-16},
{"t":15450,"N":15,"E":14,"Z":25,"R":20,"T":11},
{"t":15475,"N":-40,"E":-10,"Z":-35,"R":-9,"T":-13},
{"t":15500,"N":22,"E":9,"Z":25,"R":10,"T":12},
{"t":15525,"N":-22,"E":-12,"Z":-30,"R":-12,"T":-10},
{"t":15550,"N":30,"E":10,"Z":18,"R":14,"T":25},
{"t":15575,"N":-28,"E":-13,"Z":-22,"R":-20,"T":-14},
{"t":15600,"N":12,"E":8,"Z":20,"R":13,"T":9},
{"t":15625,"N":-35,"E":-15,"Z":-40,"R":-8,"T":-14},
{"t":15650,"N":35,"E":12,"Z":20,"R":12,"T":12},
{"t":15675,"N":-20,"E":-11,"Z":-28,"R":-25,"T":-13},
{"t":15700,"N":24,"E":14,"Z":50,"R":12,"T":20},
{"t":15725,"N":-25,"E":-13,"Z":-15,"R":-15,"T":-16},
{"t":15750,"N":18,"E":8,"Z":25,"R":15,"T":11},
{"t":15775,"N":-18,"E":-10,"Z":-30,"R":-9,"T":-13},
{"t":15800,"N":25,"E":12,"Z":-45,"R":10,"T":-15}
]
},
"data": {"name": "wave"},
"config": {
"view": {"stroke": "black", "strokeWidth": 1},
"axisX": {"domain": false, "grid": false, "ticks": true, "tickColor": "black", "tickSize": 5, "tickWidth": 1, "labelFont": "DejaVu Sans", "labelFontSize": 13.9, "labelColor": "black", "labelPadding": 6, "labelFlush": false, "format": "d"}
},
"vconcat": [
{"width": 1200, "height": 118, "layer": [
{"mark": {"type": "line", "color": "black", "strokeWidth": 2, "strokeJoin": "round"},
"encoding": {"x": {"field": "t", "type": "quantitative", "scale": {"domain": [-790, 16590], "nice": false, "zero": false}, "axis": {"values": [0,2000,4000,6000,8000,10000,12000,14000,16000], "labels": false, "title": null}},
"y": {"field": "N", "type": "quantitative", "scale": {"zero": false, "nice": false, "padding": 5.4}, "axis": null}}},
{"data": {"name": "picks"}, "transform": [{"filter": "datum.c === 'N'"}],
"mark": {"type": "rule", "color": "#00bfbf", "strokeWidth": 2.7, "strokeDash": [10, 4.3]},
"encoding": {"x": {"field": "t", "type": "quantitative", "scale": {"domain": [-790, 16590], "nice": false, "zero": false}, "axis": {"values": [0,2000,4000,6000,8000,10000,12000,14000,16000], "labels": false, "title": null}},
"y": {"field": "lo", "type": "quantitative", "scale": {"zero": false, "nice": false, "padding": 5.4}, "axis": null}, "y2": {"field": "hi"}}},
{"data": {"name": "picks"}, "transform": [{"filter": "datum.c === 'N' && datum.t === 8170"}],
"mark": {"type": "text", "align": "left", "baseline": "top", "dy": -1, "font": "DejaVu Sans", "fontSize": 13.9, "color": "black"},
"encoding": {"x": {"datum": -625, "type": "quantitative", "scale": {"domain": [-790, 16590], "nice": false, "zero": false}, "axis": {"values": [0,2000,4000,6000,8000,10000,12000,14000,16000], "labels": false, "title": null}},
"y": {"field": "hi", "type": "quantitative", "scale": {"zero": false, "nice": false, "padding": 5.4}, "axis": null}, "text": {"field": "c"}}}
]},
{"width": 1200, "height": 118, "layer": [
{"mark": {"type": "line", "color": "black", "strokeWidth": 2, "strokeJoin": "round"},
"encoding": {"x": {"field": "t", "type": "quantitative", "scale": {"domain": [-790, 16590], "nice": false, "zero": false}, "axis": {"values": [0,2000,4000,6000,8000,10000,12000,14000,16000], "labels": false, "title": null}},
"y": {"field": "E", "type": "quantitative", "scale": {"zero": false, "nice": false, "padding": 5.4}, "axis": null}}},
{"data": {"name": "picks"}, "transform": [{"filter": "datum.c === 'E'"}],
"mark": {"type": "rule", "color": "#00bfbf", "strokeWidth": 2.7, "strokeDash": [10, 4.3]},
"encoding": {"x": {"field": "t", "type": "quantitative", "scale": {"domain": [-790, 16590], "nice": false, "zero": false}, "axis": {"values": [0,2000,4000,6000,8000,10000,12000,14000,16000], "labels": false, "title": null}},
"y": {"field": "lo", "type": "quantitative", "scale": {"zero": false, "nice": false, "padding": 5.4}, "axis": null}, "y2": {"field": "hi"}}},
{"data": {"name": "picks"}, "transform": [{"filter": "datum.c === 'E' && datum.t === 8170"}],
"mark": {"type": "text", "align": "left", "baseline": "top", "dy": -1, "font": "DejaVu Sans", "fontSize": 13.9, "color": "black"},
"encoding": {"x": {"datum": -625, "type": "quantitative", "scale": {"domain": [-790, 16590], "nice": false, "zero": false}, "axis": {"values": [0,2000,4000,6000,8000,10000,12000,14000,16000], "labels": false, "title": null}},
"y": {"field": "hi", "type": "quantitative", "scale": {"zero": false, "nice": false, "padding": 5.4}, "axis": null}, "text": {"field": "c"}}}
]},
{"width": 1200, "height": 118, "layer": [
{"mark": {"type": "line", "color": "black", "strokeWidth": 2, "strokeJoin": "round"},
"encoding": {"x": {"field": "t", "type": "quantitative", "scale": {"domain": [-790, 16590], "nice": false, "zero": false}, "axis": {"values": [0,2000,4000,6000,8000,10000,12000,14000,16000], "labels": false, "title": null}},
"y": {"field": "Z", "type": "quantitative", "scale": {"zero": false, "nice": false, "padding": 5.4}, "axis": null}}},
{"data": {"name": "picks"}, "transform": [{"filter": "datum.c === 'Z'"}],
"mark": {"type": "rule", "color": "#00bfbf", "strokeWidth": 2.7, "strokeDash": [10, 4.3]},
"encoding": {"x": {"field": "t", "type": "quantitative", "scale": {"domain": [-790, 16590], "nice": false, "zero": false}, "axis": {"values": [0,2000,4000,6000,8000,10000,12000,14000,16000], "labels": false, "title": null}},
"y": {"field": "lo", "type": "quantitative", "scale": {"zero": false, "nice": false, "padding": 5.4}, "axis": null}, "y2": {"field": "hi"}}},
{"data": {"name": "picks"}, "transform": [{"filter": "datum.c === 'Z' && datum.t === 8170"}],
"mark": {"type": "text", "align": "left", "baseline": "top", "dy": -1, "font": "DejaVu Sans", "fontSize": 13.9, "color": "black"},
"encoding": {"x": {"datum": -625, "type": "quantitative", "scale": {"domain": [-790, 16590], "nice": false, "zero": false}, "axis": {"values": [0,2000,4000,6000,8000,10000,12000,14000,16000], "labels": false, "title": null}},
"y": {"field": "hi", "type": "quantitative", "scale": {"zero": false, "nice": false, "padding": 5.4}, "axis": null}, "text": {"field": "c"}}}
]},
{"width": 1200, "height": 118, "layer": [
{"mark": {"type": "line", "color": "black", "strokeWidth": 2, "strokeJoin": "round"},
"encoding": {"x": {"field": "t", "type": "quantitative", "scale": {"domain": [-790, 16590], "nice": false, "zero": false}, "axis": {"values": [0,2000,4000,6000,8000,10000,12000,14000,16000], "labels": false, "title": null}},
"y": {"field": "R", "type": "quantitative", "scale": {"zero": false, "nice": false, "padding": 5.4}, "axis": null}}},
{"data": {"name": "picks"}, "transform": [{"filter": "datum.c === 'R'"}],
"mark": {"type": "rule", "color": "#00bfbf", "strokeWidth": 2.7, "strokeDash": [10, 4.3]},
"encoding": {"x": {"field": "t", "type": "quantitative", "scale": {"domain": [-790, 16590], "nice": false, "zero": false}, "axis": {"values": [0,2000,4000,6000,8000,10000,12000,14000,16000], "labels": false, "title": null}},
"y": {"field": "lo", "type": "quantitative", "scale": {"zero": false, "nice": false, "padding": 5.4}, "axis": null}, "y2": {"field": "hi"}}},
{"data": {"name": "picks"}, "transform": [{"filter": "datum.c === 'R' && datum.t === 8170"}],
"mark": {"type": "text", "align": "left", "baseline": "top", "dy": -1, "font": "DejaVu Sans", "fontSize": 13.9, "color": "black"},
"encoding": {"x": {"datum": -625, "type": "quantitative", "scale": {"domain": [-790, 16590], "nice": false, "zero": false}, "axis": {"values": [0,2000,4000,6000,8000,10000,12000,14000,16000], "labels": false, "title": null}},
"y": {"field": "hi", "type": "quantitative", "scale": {"zero": false, "nice": false, "padding": 5.4}, "axis": null}, "text": {"field": "c"}}}
]},
{"width": 1200, "height": 118, "layer": [
{"mark": {"type": "line", "color": "black", "strokeWidth": 2, "strokeJoin": "round"},
"encoding": {"x": {"field": "t", "type": "quantitative", "scale": {"domain": [-790, 16590], "nice": false, "zero": false}, "axis": {"values": [0,2000,4000,6000,8000,10000,12000,14000,16000], "labels": true, "title": null}},
"y": {"field": "T", "type": "quantitative", "scale": {"zero": false, "nice": false, "padding": 5.4}, "axis": null}}},
{"data": {"name": "picks"}, "transform": [{"filter": "datum.c === 'T'"}],
"mark": {"type": "rule", "color": "#00bfbf", "strokeWidth": 2.7, "strokeDash": [10, 4.3]},
"encoding": {"x": {"field": "t", "type": "quantitative", "scale": {"domain": [-790, 16590], "nice": false, "zero": false}, "axis": {"values": [0,2000,4000,6000,8000,10000,12000,14000,16000], "labels": true, "title": null}},
"y": {"field": "lo", "type": "quantitative", "scale": {"zero": false, "nice": false, "padding": 5.4}, "axis": null}, "y2": {"field": "hi"}}},
{"data": {"name": "picks"}, "transform": [{"filter": "datum.c === 'T' && datum.t === 8170"}],
"mark": {"type": "text", "align": "left", "baseline": "top", "dy": -1, "font": "DejaVu Sans", "fontSize": 13.9, "color": "black"},
"encoding": {"x": {"datum": -625, "type": "quantitative", "scale": {"domain": [-790, 16590], "nice": false, "zero": false}, "axis": {"values": [0,2000,4000,6000,8000,10000,12000,14000,16000], "labels": true, "title": null}},
"y": {"field": "hi", "type": "quantitative", "scale": {"zero": false, "nice": false, "padding": 5.4}, "axis": null}, "text": {"field": "c"}}}
]}
]
}
